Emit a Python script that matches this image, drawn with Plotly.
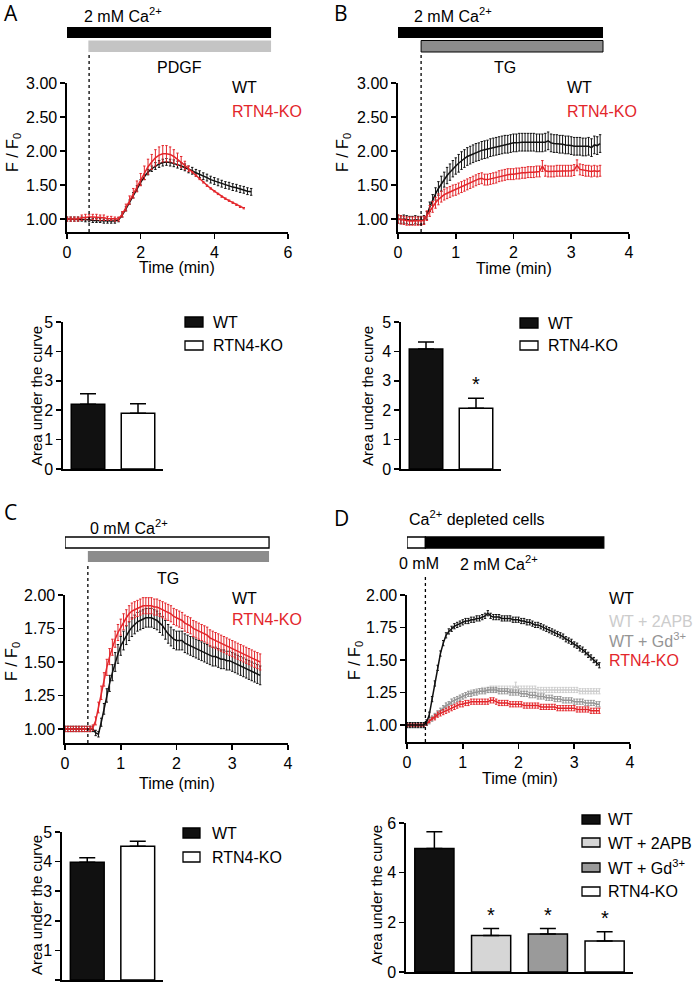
import plotly.graph_objects as go

# ---------------- DATA ----------------
# Panel A (PDGF, 2 mM Ca2+)
T_A = [0.0, 0.1, 0.2, 0.3, 0.4, 0.5, 0.6, 0.7, 0.8, 0.9, 1.0, 1.1, 1.2, 1.3, 1.4, 1.5, 1.6, 1.7, 1.8, 1.9,
       2.0, 2.1, 2.2, 2.3, 2.4, 2.5, 2.6, 2.7, 2.8, 2.9, 3.0, 3.1, 3.2, 3.3, 3.4, 3.5, 3.6, 3.7, 3.8, 3.9,
       4.0, 4.1, 4.2, 4.3, 4.4, 4.5, 4.6, 4.7, 4.8, 4.9, 5.0]
A_WT = [1.00, 1.00, 1.00, 1.00, 1.00, 0.99, 0.99, 0.98, 0.98, 0.98, 0.97, 0.97, 0.97, 0.97, 0.99,
        1.06, 1.15, 1.25, 1.35, 1.45, 1.54, 1.62, 1.69, 1.74, 1.78, 1.81, 1.83, 1.84, 1.83, 1.82,
        1.80, 1.78, 1.76, 1.73, 1.71, 1.68, 1.66, 1.63, 1.61, 1.58, 1.56, 1.54, 1.52, 1.50, 1.49,
        1.47, 1.46, 1.44, 1.43, 1.41, 1.40]
A_WT_ERR = [0.03, 0.03, 0.03, 0.03, 0.03, 0.03, 0.03, 0.03, 0.03, 0.03, 0.03, 0.03, 0.03, 0.03, 0.03,
            0.03, 0.03, 0.03, 0.04, 0.04, 0.04, 0.04, 0.04, 0.04, 0.05, 0.05, 0.05, 0.05, 0.05, 0.05,
            0.05, 0.05, 0.05, 0.05, 0.05, 0.05, 0.05, 0.05, 0.05, 0.05, 0.05, 0.05, 0.05, 0.05, 0.05,
            0.05, 0.05, 0.05, 0.05, 0.05, 0.05]
A_KO = [1.00, 1.00, 1.00, 1.00, 1.02, 1.03, 1.03, 1.03, 1.03, 1.02, 1.02, 1.01, 1.01, 1.00, 1.00,
        1.07, 1.17, 1.28, 1.38, 1.48, 1.58, 1.68, 1.77, 1.84, 1.90, 1.94, 1.96, 1.96, 1.95, 1.92,
        1.88, 1.84, 1.79, 1.74, 1.69, 1.64, 1.59, 1.54, 1.49, 1.45, 1.41, 1.37, 1.33, 1.30, 1.27,
        1.24, 1.21, 1.18, 1.16]
A_KO_ERR = [0.03, 0.03, 0.03, 0.03, 0.04, 0.04, 0.04, 0.04, 0.04, 0.04, 0.04, 0.03, 0.03, 0.03, 0.03,
            0.04, 0.05, 0.06, 0.07, 0.08, 0.09, 0.10, 0.11, 0.11, 0.12, 0.12, 0.12, 0.12, 0.11, 0.10,
            0.09, 0.08, 0.06, 0.04, 0.01, 0.01, 0.01, 0.01, 0.01, 0.01, 0.01, 0.01, 0.01, 0.01, 0.01,
            0.01, 0.01, 0.01, 0.01]

# Panels B and C share the sampling grid
T_BC = [0.00, 0.05, 0.10, 0.15, 0.20, 0.25, 0.30, 0.35, 0.40, 0.45, 0.50, 0.55, 0.60, 0.65, 0.70, 0.75,
        0.80, 0.85, 0.90, 0.95, 1.00, 1.05, 1.10, 1.15, 1.20, 1.25, 1.30, 1.35, 1.40, 1.45, 1.50, 1.55,
        1.60, 1.65, 1.70, 1.75, 1.80, 1.85, 1.90, 1.95, 2.00, 2.05, 2.10, 2.15, 2.20, 2.25, 2.30, 2.35,
        2.40, 2.45, 2.50, 2.55, 2.60, 2.65, 2.70, 2.75, 2.80, 2.85, 2.90, 2.95, 3.00, 3.05, 3.10, 3.15,
        3.20, 3.25, 3.30, 3.35, 3.40, 3.45, 3.50]
B_WT = [1.00, 0.99, 1.00, 0.99, 0.98, 0.98, 0.99, 0.98, 0.98, 0.99, 1.05, 1.18, 1.28, 1.37, 1.45, 1.52,
        1.58, 1.64, 1.69, 1.74, 1.78, 1.82, 1.86, 1.89, 1.92, 1.94, 1.96, 1.98, 1.99, 2.01, 2.02, 2.03,
        2.05, 2.06, 2.07, 2.08, 2.09, 2.10, 2.10, 2.11, 2.12, 2.12, 2.13, 2.13, 2.13, 2.13, 2.13, 2.13,
        2.12, 2.12, 2.12, 2.13, 2.15, 2.12, 2.11, 2.11, 2.10, 2.10, 2.09, 2.09, 2.08, 2.07, 2.07, 2.07,
        2.06, 2.06, 2.07, 2.05, 2.09, 2.08, 2.11]
B_WT_ERR = [0.06, 0.06, 0.06, 0.06, 0.06, 0.06, 0.06, 0.06, 0.06, 0.06, 0.06, 0.07, 0.08, 0.09, 0.10, 0.11,
            0.11, 0.12, 0.12, 0.12, 0.12, 0.13, 0.13, 0.13, 0.13, 0.13, 0.13, 0.13, 0.13, 0.13, 0.13, 0.13,
            0.13, 0.13, 0.13, 0.13, 0.13, 0.13, 0.13, 0.13, 0.13, 0.13, 0.13, 0.13, 0.13, 0.13, 0.13, 0.13,
            0.13, 0.13, 0.13, 0.13, 0.13, 0.13, 0.13, 0.13, 0.13, 0.13, 0.13, 0.13, 0.13, 0.13, 0.13, 0.13,
            0.13, 0.13, 0.13, 0.13, 0.13, 0.13, 0.13]
B_KO = [1.00, 0.99, 0.98, 0.97, 0.97, 0.97, 0.97, 0.97, 0.97, 0.98, 1.05, 1.12, 1.18, 1.24, 1.29, 1.33,
        1.36, 1.38, 1.40, 1.42, 1.43, 1.45, 1.47, 1.49, 1.51, 1.53, 1.55, 1.57, 1.59, 1.60, 1.58, 1.58,
        1.59, 1.60, 1.61, 1.63, 1.64, 1.65, 1.66, 1.66, 1.66, 1.67, 1.67, 1.68, 1.68, 1.69, 1.69, 1.69,
        1.70, 1.70, 1.78, 1.71, 1.70, 1.70, 1.70, 1.71, 1.71, 1.71, 1.71, 1.71, 1.71, 1.72, 1.79, 1.73,
        1.72, 1.71, 1.71, 1.70, 1.71, 1.70, 1.71]
B_KO_ERR = [0.06, 0.06, 0.06, 0.06, 0.06, 0.06, 0.06, 0.06, 0.06, 0.06, 0.07, 0.08, 0.08, 0.08, 0.08, 0.08,
            0.08, 0.08, 0.08, 0.08, 0.08, 0.08, 0.08, 0.08, 0.08, 0.08, 0.08, 0.08, 0.08, 0.08, 0.08, 0.08,
            0.08, 0.08, 0.08, 0.08, 0.08, 0.08, 0.08, 0.08, 0.08, 0.08, 0.08, 0.08, 0.08, 0.08, 0.08, 0.08,
            0.08, 0.08, 0.08, 0.08, 0.08, 0.08, 0.08, 0.08, 0.08, 0.08, 0.08, 0.08, 0.08, 0.08, 0.08, 0.08,
            0.08, 0.08, 0.08, 0.08, 0.08, 0.08, 0.08]

C_WT = [1.00, 1.00, 1.00, 1.00, 1.00, 1.00, 1.00, 1.00, 1.00, 1.00, 1.00, 0.97, 0.96, 1.05, 1.15, 1.25,
        1.34, 1.42, 1.50, 1.56, 1.62, 1.66, 1.70, 1.73, 1.76, 1.78, 1.80, 1.81, 1.82, 1.83, 1.83, 1.83,
        1.82, 1.81, 1.79, 1.77, 1.74, 1.71, 1.69, 1.67, 1.66, 1.66, 1.66, 1.64, 1.63, 1.62, 1.61, 1.60,
        1.59, 1.58, 1.57, 1.56, 1.55, 1.54, 1.54, 1.53, 1.52, 1.52, 1.51, 1.51, 1.50, 1.49, 1.48, 1.47,
        1.46, 1.45, 1.44, 1.43, 1.42, 1.41, 1.40]
C_WT_ERR = [0.02, 0.02, 0.02, 0.02, 0.02, 0.02, 0.02, 0.02, 0.02, 0.02, 0.02, 0.02, 0.02, 0.03, 0.04, 0.05,
            0.06, 0.06, 0.07, 0.07, 0.07, 0.07, 0.07, 0.07, 0.07, 0.07, 0.07, 0.07, 0.07, 0.07, 0.07, 0.07,
            0.07, 0.07, 0.07, 0.07, 0.07, 0.07, 0.07, 0.07, 0.07, 0.07, 0.07, 0.07, 0.07, 0.07, 0.07, 0.07,
            0.07, 0.07, 0.07, 0.07, 0.07, 0.07, 0.07, 0.07, 0.07, 0.07, 0.07, 0.07, 0.07, 0.07, 0.07, 0.07,
            0.07, 0.07, 0.07, 0.07, 0.07, 0.07, 0.07]
C_KO = [1.00, 1.00, 1.00, 1.00, 1.00, 1.00, 1.00, 1.00, 1.00, 1.00, 1.01, 1.06, 1.16, 1.27, 1.37, 1.46,
        1.54, 1.61, 1.67, 1.72, 1.76, 1.80, 1.83, 1.86, 1.88, 1.89, 1.90, 1.91, 1.92, 1.92, 1.92, 1.92,
        1.91, 1.91, 1.90, 1.89, 1.88, 1.87, 1.86, 1.84, 1.83, 1.82, 1.81, 1.79, 1.78, 1.77, 1.75, 1.74,
        1.73, 1.72, 1.71, 1.70, 1.68, 1.67, 1.66, 1.65, 1.64, 1.63, 1.62, 1.61, 1.60, 1.59, 1.58, 1.57,
        1.56, 1.55, 1.54, 1.53, 1.52, 1.51, 1.50]
C_KO_ERR = [0.02, 0.02, 0.02, 0.02, 0.02, 0.02, 0.02, 0.02, 0.02, 0.02, 0.02, 0.03, 0.04, 0.05, 0.05, 0.06,
            0.06, 0.06, 0.06, 0.06, 0.06, 0.06, 0.06, 0.06, 0.06, 0.06, 0.06, 0.06, 0.06, 0.06, 0.06, 0.06,
            0.06, 0.06, 0.06, 0.06, 0.06, 0.06, 0.06, 0.06, 0.06, 0.06, 0.06, 0.06, 0.06, 0.06, 0.06, 0.06,
            0.06, 0.06, 0.06, 0.06, 0.06, 0.06, 0.06, 0.06, 0.06, 0.06, 0.06, 0.06, 0.06, 0.06, 0.06, 0.06,
            0.06, 0.06, 0.06, 0.06, 0.06, 0.06, 0.06]

# Panel D (Ca2+ depleted cells)
T_D = [0.00, 0.05, 0.10, 0.15, 0.20, 0.25, 0.30, 0.35, 0.40, 0.45, 0.50, 0.55, 0.60, 0.65, 0.70, 0.75,
       0.80, 0.85, 0.90, 0.95, 1.00, 1.05, 1.10, 1.15, 1.20, 1.25, 1.30, 1.35, 1.40, 1.45, 1.50, 1.55,
       1.60, 1.65, 1.70, 1.75, 1.80, 1.85, 1.90, 1.95, 2.00, 2.05, 2.10, 2.15, 2.20, 2.25, 2.30, 2.35,
       2.40, 2.45, 2.50, 2.55, 2.60, 2.65, 2.70, 2.75, 2.80, 2.85, 2.90, 2.95, 3.00, 3.05, 3.10, 3.15,
       3.20, 3.25, 3.30, 3.35, 3.40, 3.45]
D_WT = [1.00, 1.00, 1.00, 1.00, 1.00, 1.00, 1.00, 1.02, 1.08, 1.20, 1.32, 1.44, 1.55, 1.63, 1.69, 1.72,
        1.74, 1.76, 1.77, 1.78, 1.79, 1.80, 1.80, 1.81, 1.81, 1.82, 1.82, 1.83, 1.84, 1.86, 1.84, 1.83,
        1.83, 1.83, 1.82, 1.82, 1.82, 1.82, 1.81, 1.81, 1.81, 1.80, 1.80, 1.79, 1.79, 1.78, 1.77, 1.77,
        1.76, 1.75, 1.74, 1.73, 1.72, 1.71, 1.70, 1.69, 1.68, 1.66, 1.65, 1.64, 1.62, 1.61, 1.59, 1.58,
        1.56, 1.54, 1.52, 1.50, 1.48, 1.46]
D_2APB = [1.00, 1.00, 1.00, 1.00, 1.00, 1.00, 1.00, 1.01, 1.03, 1.05, 1.07, 1.09, 1.11, 1.13, 1.15, 1.16,
          1.18, 1.19, 1.20, 1.21, 1.22, 1.23, 1.24, 1.25, 1.25, 1.26, 1.26, 1.27, 1.27, 1.27, 1.28, 1.28,
          1.28, 1.28, 1.28, 1.28, 1.28, 1.28, 1.28, 1.30, 1.28, 1.28, 1.28, 1.28, 1.28, 1.28, 1.28, 1.27,
          1.27, 1.27, 1.27, 1.27, 1.27, 1.27, 1.27, 1.27, 1.27, 1.27, 1.27, 1.27, 1.27, 1.27, 1.26, 1.26,
          1.26, 1.26, 1.26, 1.26, 1.26, 1.26]
D_GD = [1.00, 1.00, 1.00, 1.00, 1.00, 1.00, 1.00, 1.01, 1.03, 1.05, 1.07, 1.09, 1.11, 1.13, 1.15, 1.16,
        1.18, 1.19, 1.20, 1.21, 1.22, 1.23, 1.24, 1.24, 1.25, 1.25, 1.26, 1.26, 1.26, 1.27, 1.27, 1.27,
        1.27, 1.26, 1.26, 1.26, 1.26, 1.25, 1.25, 1.25, 1.25, 1.24, 1.24, 1.24, 1.23, 1.23, 1.23, 1.22,
        1.22, 1.22, 1.21, 1.21, 1.21, 1.20, 1.20, 1.20, 1.19, 1.19, 1.19, 1.19, 1.18, 1.18, 1.18, 1.18,
        1.17, 1.17, 1.17, 1.17, 1.16, 1.16]
D_KO = [1.00, 1.00, 1.00, 1.00, 1.00, 1.00, 1.00, 1.01, 1.03, 1.05, 1.06, 1.08, 1.09, 1.10, 1.11, 1.12,
        1.13, 1.14, 1.15, 1.16, 1.16, 1.17, 1.17, 1.18, 1.18, 1.18, 1.18, 1.18, 1.18, 1.18, 1.19, 1.19,
        1.18, 1.17, 1.17, 1.17, 1.17, 1.16, 1.16, 1.16, 1.16, 1.16, 1.15, 1.15, 1.15, 1.15, 1.15, 1.15,
        1.14, 1.14, 1.14, 1.14, 1.14, 1.14, 1.13, 1.13, 1.13, 1.13, 1.13, 1.13, 1.13, 1.12, 1.12, 1.12,
        1.12, 1.12, 1.11, 1.11, 1.11, 1.11]
D_WT_ERR = [0.02, 0.02, 0.02, 0.02, 0.02, 0.02, 0.02, 0.02, 0.02, 0.02, 0.02, 0.02, 0.02, 0.02, 0.02, 0.02,
            0.02, 0.02, 0.02, 0.02, 0.02, 0.02, 0.02, 0.02, 0.02, 0.02, 0.02, 0.02, 0.02, 0.02, 0.02, 0.02,
            0.02, 0.02, 0.02, 0.02, 0.02, 0.02, 0.02, 0.02, 0.02, 0.02, 0.02, 0.02, 0.02, 0.02, 0.02, 0.02,
            0.02, 0.02, 0.02, 0.02, 0.02, 0.02, 0.02, 0.02, 0.02, 0.02, 0.02, 0.02, 0.02, 0.02, 0.02, 0.02,
            0.02, 0.02, 0.02, 0.02, 0.02, 0.02]
D_2APB_ERR = [0.01, 0.01, 0.01, 0.01, 0.01, 0.01, 0.01, 0.01, 0.02, 0.02, 0.02, 0.02, 0.02, 0.02, 0.02, 0.02,
              0.02, 0.02, 0.02, 0.02, 0.02, 0.02, 0.02, 0.02, 0.02, 0.02, 0.02, 0.02, 0.02, 0.02, 0.02, 0.02,
              0.02, 0.02, 0.02, 0.02, 0.02, 0.02, 0.02, 0.03, 0.02, 0.02, 0.02, 0.02, 0.02, 0.02, 0.02, 0.02,
              0.02, 0.02, 0.02, 0.02, 0.02, 0.02, 0.02, 0.02, 0.02, 0.02, 0.02, 0.02, 0.02, 0.02, 0.02, 0.02,
              0.02, 0.02, 0.02, 0.02, 0.02, 0.02]
D_GD_ERR = [0.01, 0.01, 0.01, 0.01, 0.01, 0.01, 0.01, 0.01, 0.02, 0.02, 0.02, 0.02, 0.02, 0.02, 0.02, 0.02,
            0.02, 0.02, 0.02, 0.02, 0.02, 0.02, 0.02, 0.02, 0.02, 0.02, 0.02, 0.02, 0.02, 0.02, 0.02, 0.02,
            0.02, 0.02, 0.02, 0.02, 0.02, 0.02, 0.02, 0.02, 0.02, 0.02, 0.02, 0.02, 0.02, 0.02, 0.02, 0.02,
            0.02, 0.02, 0.02, 0.02, 0.02, 0.02, 0.02, 0.02, 0.02, 0.02, 0.02, 0.02, 0.02, 0.02, 0.02, 0.02,
            0.02, 0.02, 0.02, 0.02, 0.02, 0.02]
D_KO_ERR = [0.01, 0.01, 0.01, 0.01, 0.01, 0.01, 0.01, 0.01, 0.01, 0.01, 0.02, 0.02, 0.02, 0.02, 0.02, 0.02,
            0.02, 0.02, 0.02, 0.02, 0.02, 0.02, 0.02, 0.02, 0.02, 0.02, 0.02, 0.02, 0.02, 0.02, 0.02, 0.02,
            0.02, 0.02, 0.02, 0.02, 0.02, 0.02, 0.02, 0.02, 0.02, 0.02, 0.02, 0.02, 0.02, 0.02, 0.02, 0.02,
            0.02, 0.02, 0.02, 0.02, 0.02, 0.02, 0.02, 0.02, 0.02, 0.02, 0.02, 0.02, 0.02, 0.02, 0.02, 0.02,
            0.02, 0.02, 0.02, 0.02, 0.02, 0.02]

# Area under the curve bar charts
GROUPS_2 = ["WT", "RTN4-KO"]
AUC_A = [2.20, 1.90]
AUC_A_ERR = [0.36, 0.32]
AUC_B = [4.08, 2.07]
AUC_B_ERR = [0.24, 0.34]
AUC_C = [3.98, 4.52]
AUC_C_ERR = [0.15, 0.17]
GROUPS_4 = ["WT", "WT + 2APB", "WT + Gd3+", "RTN4-KO"]
AUC_D = [4.97, 1.47, 1.53, 1.25]
AUC_D_ERR = [0.68, 0.28, 0.22, 0.37]

# treatment windows (min)
A_CA_WIN = [0.0, 5.54]
A_PDGF_WIN = [0.58, 5.54]
B_CA_WIN = [0.0, 3.55]
B_TG_WIN = [0.4, 3.55]
C_CA_WIN = [0.0, 3.66]
C_TG_WIN = [0.41, 3.66]
D_ZERO_WIN = [0.0, 0.33]
D_CA_WIN = [0.33, 3.53]
ADD_A, ADD_B, ADD_C, ADD_D = 0.6, 0.4, 0.41, 0.33

# ---------------- STYLE ----------------
W, H = 693, 987
FONT = "Liberation Sans, Arial, Helvetica, sans-serif"
RED = "#e3262b"
LGRAY = "#cccccc"
MGRAY = "#959595"
BLACK = "#111111"


def xd(a, b):
    return [a / W, b / W]


def yd(bot, top):
    return [1 - bot / H, 1 - top / H]


def py(p):
    return 1 - p / H


def axis(domain, rng, anchor, tickvals=None, fmt=None, ticks="outside", labels=True, cat=False):
    d = dict(domain=domain, range=rng, anchor=anchor, showline=True, linecolor="black",
             linewidth=1.6, ticks=ticks, ticklen=5, tickwidth=1.6, tickcolor="black",
             showgrid=False, zeroline=False, showticklabels=labels, fixedrange=True,
             tickfont=dict(size=16, color="black", family=FONT))
    if tickvals is not None:
        d["tickvals"] = tickvals
    if fmt:
        d["tickformat"] = fmt
    if cat:
        d["type"] = "category"
    return d


fig = go.Figure()


def line(x, y, err, color, xa, ya, width=1.5):
    fig.add_trace(go.Scatter(x=x, y=y, mode="lines", xaxis=xa, yaxis=ya,
                             line=dict(color=color, width=width),
                             error_y=dict(type="data", array=err, color=color, thickness=1, width=1.2),
                             hoverinfo="skip"))


def bars(cats, vals, errs, colors, xa, ya, width):
    fig.add_trace(go.Bar(x=cats, y=vals, xaxis=xa, yaxis=ya, width=width,
                         marker=dict(color=colors, line=dict(color="black", width=1.5)),
                         error_y=dict(type="data", array=errs, arrayminus=[0] * len(errs),
                                      symmetric=False, color="black", thickness=1.5, width=8),
                         hoverinfo="skip"))


# Panel A line
line(T_A, A_WT, A_WT_ERR, BLACK, "x", "y")
line(T_A[:len(A_KO)], A_KO, A_KO_ERR, RED, "x", "y")
# Panel B line
line(T_BC, B_WT, B_WT_ERR, BLACK, "x2", "y2")
line(T_BC, B_KO, B_KO_ERR, RED, "x2", "y2")
# Panel A / B bars
bars(GROUPS_2, AUC_A, AUC_A_ERR, [BLACK, "white"], "x3", "y3", 0.67)
bars(GROUPS_2, AUC_B, AUC_B_ERR, [BLACK, "white"], "x4", "y4", 0.67)
# Panel C line
line(T_BC, C_WT, C_WT_ERR, BLACK, "x5", "y5")
line(T_BC, C_KO, C_KO_ERR, RED, "x5", "y5")
# Panel D line
line(T_D, D_2APB, D_2APB_ERR, LGRAY, "x6", "y6")
line(T_D, D_GD, D_GD_ERR, MGRAY, "x6", "y6")
line(T_D, D_KO, D_KO_ERR, RED, "x6", "y6")
line(T_D, D_WT, D_WT_ERR, BLACK, "x6", "y6")
# Panel C / D bars
bars(GROUPS_2, AUC_C, AUC_C_ERR, [BLACK, "white"], "x7", "y7", 0.67)
bars(GROUPS_4, AUC_D, AUC_D_ERR, [BLACK, "#d6d6d6", "#9a9a9a", "white"], "x8", "y8", 0.69)

layout = dict(
    width=W, height=H, margin=dict(l=0, r=0, t=0, b=0), template="none",
    paper_bgcolor="white", plot_bgcolor="white", showlegend=False,
    font=dict(family=FONT, size=16, color="black"),
    xaxis=axis(xd(67, 288), [0, 6], "y", [0, 2, 4, 6]),
    yaxis=axis(yd(232, 83), [0.81, 3.0], "x", [1.0, 1.5, 2.0, 2.5, 3.0], ".2f"),
    xaxis2=axis(xd(398, 629), [0, 4], "y2", [0, 1, 2, 3, 4]),
    yaxis2=axis(yd(232, 83), [0.81, 3.0], "x2", [1.0, 1.5, 2.0, 2.5, 3.0], ".2f"),
    xaxis3=axis(xd(63, 163), [-0.5, 1.5], "y3", ticks="", labels=False, cat=True),
    yaxis3=axis(yd(469, 322), [0, 5], "x3", [0, 1, 2, 3, 4, 5]),
    xaxis4=axis(xd(401, 501), [-0.5, 1.5], "y4", ticks="", labels=False, cat=True),
    yaxis4=axis(yd(469, 322), [0, 5], "x4", [0, 1, 2, 3, 4, 5]),
    xaxis5=axis(xd(65, 288), [0, 4], "y5", [0, 1, 2, 3, 4]),
    yaxis5=axis(yd(743, 595), [0.895, 2.0], "x5", [1.0, 1.25, 1.5, 1.75, 2.0], ".2f"),
    xaxis6=axis(xd(407, 630), [0, 4], "y6", [0, 1, 2, 3, 4]),
    yaxis6=axis(yd(742, 595), [0.87, 2.0], "x6", [1.0, 1.25, 1.5, 1.75, 2.0], ".2f"),
    xaxis7=axis(xd(62, 163), [-0.5, 1.5], "y7", ticks="", labels=False, cat=True),
    yaxis7=axis(yd(980, 832), [0, 5], "x7", [0, 1, 2, 3, 4, 5]),
    xaxis8=axis(xd(406, 633), [-0.5, 3.5], "y8", ticks="", labels=False, cat=True),
    yaxis8=axis(yd(972, 823), [0, 6], "x8", [0, 2, 4, 6]),
)

shapes = []


def trect(xref, win, top, bot, fill, lw=0):
    shapes.append(dict(type="rect", xref=xref, yref="paper", x0=win[0], x1=win[1],
                       y0=py(bot), y1=py(top), fillcolor=fill, layer="above",
                       line=dict(color="black", width=lw)))


def dashed(xref, t, top, bot):
    shapes.append(dict(type="line", xref=xref, yref="paper", x0=t, x1=t, y0=py(bot), y1=py(top),
                       line=dict(color="black", width=1.3, dash="dot")))


def legsq(x0, x1, top, bot, fill):
    shapes.append(dict(type="rect", xref="paper", yref="paper", x0=x0 / W, x1=x1 / W,
                       y0=py(bot), y1=py(top), fillcolor=fill, line=dict(color="black", width=1.3)))


trect("x", A_CA_WIN, 27, 38, "black")
trect("x", A_PDGF_WIN, 40.5, 52, "#c4c4c4")
dashed("x", ADD_A, 55, 232)
trect("x2", B_CA_WIN, 27, 38, "black")
trect("x2", B_TG_WIN, 40.5, 52, "#8c8c8c", 1)
dashed("x2", ADD_B, 55, 232)
trect("x5", C_CA_WIN, 537, 548, "white", 1.3)
trect("x5", C_TG_WIN, 551, 562, "#8c8c8c")
dashed("x5", ADD_C, 565, 743)
trect("x6", D_ZERO_WIN, 537, 548, "white", 1.3)
trect("x6", D_CA_WIN, 537, 548, "black", 1.3)
dashed("x6", ADD_D, 577, 742)

legsq(185, 203, 317, 327, BLACK)
legsq(185, 203, 341, 350, "white")
legsq(520, 538, 318, 328, BLACK)
legsq(520, 538, 341, 350, "white")
legsq(183, 200, 828, 838, BLACK)
legsq(183, 200, 852, 862, "white")
legsq(582, 600, 815, 824, BLACK)
legsq(582, 600, 838, 847, "#d6d6d6")
legsq(582, 600, 863, 872, "#9a9a9a")
legsq(582, 600, 887, 896, "white")

anns = []


def txt(text, x, y, size=16, color="black", xanchor="left", angle=0, family=FONT):
    anns.append(dict(text=text, x=x / W, y=py(y), xref="paper", yref="paper", xanchor=xanchor,
                     yanchor="middle", showarrow=False, textangle=angle,
                     font=dict(size=size, color=color, family=family)))


# panel letters
txt("A", 2, 13, 21, family="Open Sans, sans-serif")
txt("B", 332, 13, 21, family="Open Sans, sans-serif")
txt("C", 2, 512, 21, family="Open Sans, sans-serif")
txt("D", 332, 518, 21, family="Open Sans, sans-serif")

# treatment labels
txt("2 mM Ca<sup>2+</sup>", 82, 15)
txt("PDGF", 180, 68, xanchor="center")
txt("2 mM Ca<sup>2+</sup>", 412, 15)
txt("TG", 505, 67, xanchor="center")
txt("0 mM Ca<sup>2+</sup>", 88, 527)
txt("TG", 168, 578, xanchor="center")
txt("Ca<sup>2+</sup> depleted cells", 407, 518)
txt("0 mM", 397, 563)
txt("2 mM Ca<sup>2+</sup>", 458, 563)

# line-chart legends
txt("WT", 230, 88)
txt("RTN4-KO", 230, 112, color=RED)
txt("WT", 565, 88)
txt("RTN4-KO", 565, 112, color=RED)
txt("WT", 230, 598)
txt("RTN4-KO", 230, 619, color=RED)
txt("WT", 607, 598)
txt("WT + 2APB", 607, 621, color=LGRAY)
txt("WT + Gd<sup>3+</sup>", 607, 640, color=MGRAY)
txt("RTN4-KO", 607, 660, color=RED)

# bar legends
txt("WT", 211, 322)
txt("RTN4-KO", 211, 345)
txt("WT", 546, 323)
txt("RTN4-KO", 546, 345)
txt("WT", 210, 833)
txt("RTN4-KO", 210, 857)
txt("WT", 606, 819)
txt("WT + 2APB", 606, 843)
txt("WT + Gd<sup>3+</sup>", 606, 867)
txt("RTN4-KO", 606, 891)

# axis titles
for (xx, yy) in [(177, 267), (514, 268), (177, 783), (520, 778)]:
    txt("Time (min)", xx, yy, xanchor="center")
for (xx, yy) in [(13, 153), (343, 153), (12, 662), (355, 661)]:
    txt("F / F<sub>0</sub>", xx, yy, xanchor="center", angle=-90)
for (xx, yy) in [(37, 396), (368, 396), (36, 905), (376, 895)]:
    txt("Area under the curve", xx, yy, size=15, xanchor="center", angle=-90)

# significance stars
for xa, ya, cat, v, e in [("x4", "y4", GROUPS_2[1], AUC_B[1], AUC_B_ERR[1]),
                          ("x8", "y8", GROUPS_4[1], AUC_D[1], AUC_D_ERR[1]),
                          ("x8", "y8", GROUPS_4[2], AUC_D[2], AUC_D_ERR[2]),
                          ("x8", "y8", GROUPS_4[3], AUC_D[3], AUC_D_ERR[3])]:
    anns.append(dict(text="*", x=cat, y=v + e, xref=xa, yref=ya, yanchor="bottom", yshift=1,
                     showarrow=False, font=dict(size=20, color="black", family=FONT)))

layout["shapes"] = shapes
layout["annotations"] = anns
fig.update_layout(**layout)
fig.write_html("out.html", config={"displayModeBar": False, "staticPlot": True},
               post_script="document.body.style.margin='0';document.body.style.overflow='hidden';")
